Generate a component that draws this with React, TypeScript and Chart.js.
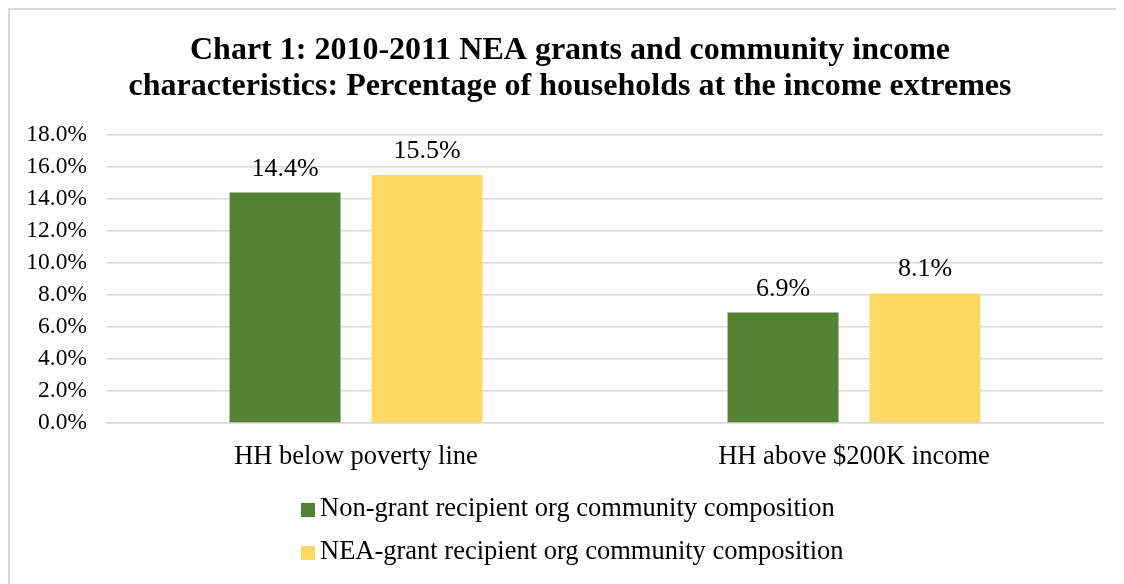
import React, { useEffect, useRef } from "react";
import { Chart, registerables } from "chart.js";

Chart.register(...registerables);

const categories = ["HH below poverty line", "HH above $200K income"];
const nonGrantValues = [14.4, 6.9];
const neaGrantValues = [15.5, 8.1];
const seriesNames = [
  "Non-grant recipient org community composition",
  "NEA-grant recipient org community composition",
];
const seriesColors = ["#548235", "#FFD966"];
const titleLines = [
  "Chart 1: 2010-2011 NEA grants and community income",
  "characteristics: Percentage of households at the income extremes",
];
const yMin = 0;
const yMax = 18;
const yStep = 2;

const FONT = "'Liberation Serif', 'Times New Roman', serif";

const labelsPlugin = {
  id: "customLabels",
  afterDatasetsDraw(chart: any) {
    const ctx = chart.ctx;
    ctx.save();
    ctx.font = `26px ${FONT}`;
    ctx.fillStyle = "#000";
    ctx.textAlign = "center";
    ctx.textBaseline = "alphabetic";
    chart.data.datasets.forEach((ds: any, i: number) => {
      const meta = chart.getDatasetMeta(i);
      meta.data.forEach((bar: any, j: number) => {
        const v = ds.data[j] as number;
        ctx.fillText(v.toFixed(1) + "%", bar.x, bar.y - 17);
      });
    });
    ctx.restore();
  },
  afterDraw(chart: any, _args: any, opts: any) {
    const ctx = chart.ctx;
    ctx.save();
    // title
    ctx.font = `bold 32px ${FONT}`;
    ctx.fillStyle = "#000";
    ctx.textAlign = "center";
    ctx.textBaseline = "middle";
    (opts.title || []).forEach((line: string, i: number) => {
      ctx.fillText(line, 560, 41 + i * 36);
    });
    // legend
    ctx.font = `26.5px ${FONT}`;
    ctx.textAlign = "left";
    ctx.textBaseline = "middle";
    const x0 = 291;
    const y0 = 499;
    const rowGap = 43;
    chart.data.datasets.forEach((ds: any, i: number) => {
      const y = y0 + i * rowGap;
      ctx.fillStyle = ds.backgroundColor;
      ctx.fillRect(x0, y - 6, 14, 14);
      ctx.fillStyle = "#000";
      ctx.fillText(ds.label, x0 + 19, y);
    });
    ctx.restore();
  },
};

export default function App() {
  const ref = useRef<HTMLCanvasElement | null>(null);
  useEffect(() => {
    document.body.style.overflow = "hidden";
    if (!ref.current) return;
    const chart = new Chart(ref.current, {
      type: "bar",
      data: {
        labels: categories,
        datasets: [
          {
            label: seriesNames[0],
            data: nonGrantValues,
            backgroundColor: seriesColors[0],
            categoryPercentage: 0.57,
            barPercentage: 0.782,
          },
          {
            label: seriesNames[1],
            data: neaGrantValues,
            backgroundColor: seriesColors[1],
            categoryPercentage: 0.57,
            barPercentage: 0.782,
          },
        ],
      },
      options: {
        responsive: false,
        animation: false,
        devicePixelRatio: 1,
        layout: { padding: { left: 0, right: 13, top: 125, bottom: 0 } },
        plugins: {
          legend: { display: false },
          tooltip: { enabled: false },
          title: { display: false },
          customLabels: { title: titleLines },
        },
        scales: {
          x: {
            grid: { display: false, drawTicks: false },
            border: { display: true, color: "#d9d9d9", width: 1.5 },
            ticks: {
              color: "#000",
              font: { family: FONT, size: 26.5 },
              padding: 18,
            },
            afterFit(scale: any) {
              scale.height = 153;
            },
          },
          y: {
            min: yMin,
            max: yMax,
            grid: { color: "#d9d9d9", lineWidth: 1.5, drawTicks: false },
            border: { display: false },
            ticks: {
              stepSize: yStep,
              color: "#000",
              font: { family: FONT, size: 23.5 },
              padding: 20,
              callback: (v: any) => Number(v).toFixed(1) + "%",
            },
            afterFit(scale: any) {
              scale.width = 97;
            },
          },
        },
      },
      plugins: [labelsPlugin],
    } as any);
    return () => chart.destroy();
  }, []);
  return (
    <div
      style={{
        width: 1140,
        height: 600,
        borderTop: "2px solid #d9d9d9",
        borderLeft: "2px solid #d9d9d9",
        boxSizing: "border-box",
        overflow: "hidden",
        background: "#fff",
      }}
    >
      <canvas ref={ref} width={1106} height={566} style={{ display: "block" }} />
    </div>
  );
}
